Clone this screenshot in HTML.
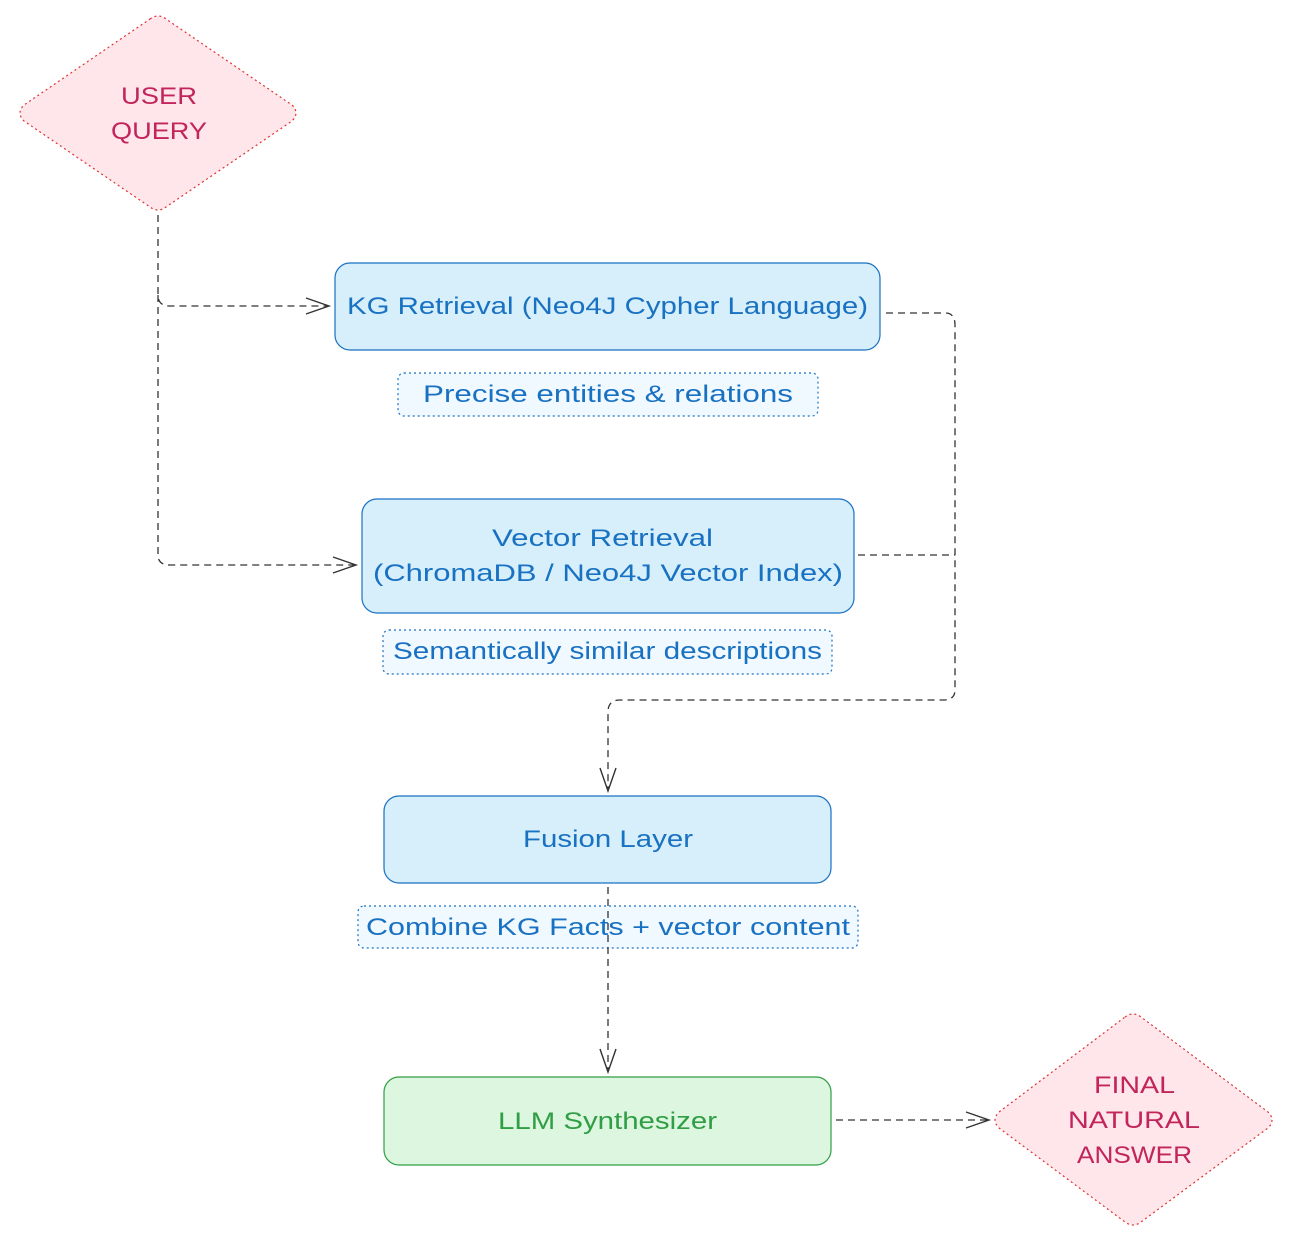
<!DOCTYPE html>
<html><head><meta charset="utf-8"><style>
html,body{margin:0;padding:0;background:#fff;}
svg{display:block;}
text{font-family:"Liberation Sans",sans-serif;}
</style></head><body>
<svg width="1293" height="1245" viewBox="0 0 1293 1245" xmlns="http://www.w3.org/2000/svg">
<rect width="1293" height="1245" fill="#fff"/>
<path d="M150,19 Q158,13 166,19 L292,105 Q300,113 292,121 L166,207 Q158,213 150,207 L24,121 Q16,113 24,105 Z" fill="#ffe6ea" stroke="#e03131" stroke-width="1.2" stroke-dasharray="2,3"/>
<text x="121" y="104" textLength="76" lengthAdjust="spacingAndGlyphs" font-size="24" fill="#c2255c">USER</text>
<text x="111" y="139" textLength="96" lengthAdjust="spacingAndGlyphs" font-size="24" fill="#c2255c">QUERY</text>
<path d="M1125,1017 Q1133,1011 1141,1017 L1268,1112 Q1276,1120 1268,1128 L1141,1222 Q1133,1228 1125,1222 L999,1128 Q991,1120 999,1112 Z" fill="#ffe6ea" stroke="#e03131" stroke-width="1.2" stroke-dasharray="2,3"/>
<text x="1094" y="1093" textLength="81" lengthAdjust="spacingAndGlyphs" font-size="24" fill="#c2255c">FINAL</text>
<text x="1068" y="1128" textLength="132" lengthAdjust="spacingAndGlyphs" font-size="24" fill="#c2255c">NATURAL</text>
<text x="1077" y="1163" textLength="115" lengthAdjust="spacingAndGlyphs" font-size="24" fill="#c2255c">ANSWER</text>
<rect x="335" y="263" width="545" height="87" rx="15" fill="#d6effb" stroke="#1971c2" stroke-width="1.2"/>
<text x="347" y="314" textLength="521" lengthAdjust="spacingAndGlyphs" font-size="24" fill="#1971c2">KG Retrieval (Neo4J Cypher Language)</text>
<rect x="398" y="373" width="420" height="43" rx="6" fill="#f0f9ff" stroke="#1971c2" stroke-width="1.2" stroke-dasharray="2,3"/>
<text x="423" y="402" textLength="370" lengthAdjust="spacingAndGlyphs" font-size="24" fill="#1971c2">Precise entities &amp; relations</text>
<rect x="362" y="499" width="492" height="114" rx="15" fill="#d6effb" stroke="#1971c2" stroke-width="1.2"/>
<text x="492" y="546" textLength="221" lengthAdjust="spacingAndGlyphs" font-size="24" fill="#1971c2">Vector Retrieval</text>
<text x="373" y="581" textLength="470" lengthAdjust="spacingAndGlyphs" font-size="24" fill="#1971c2">(ChromaDB / Neo4J Vector Index)</text>
<rect x="383" y="630" width="449" height="44" rx="6" fill="#f0f9ff" stroke="#1971c2" stroke-width="1.2" stroke-dasharray="2,3"/>
<text x="393" y="659" textLength="429" lengthAdjust="spacingAndGlyphs" font-size="24" fill="#1971c2">Semantically similar descriptions</text>
<rect x="384" y="796" width="447" height="87" rx="15" fill="#d6effb" stroke="#1971c2" stroke-width="1.2"/>
<text x="523" y="847" textLength="170" lengthAdjust="spacingAndGlyphs" font-size="24" fill="#1971c2">Fusion Layer</text>
<rect x="358" y="906" width="500" height="42" rx="6" fill="#f0f9ff" stroke="#1971c2" stroke-width="1.2" stroke-dasharray="2,3"/>
<text x="366" y="935" textLength="484" lengthAdjust="spacingAndGlyphs" font-size="24" fill="#1971c2">Combine KG Facts + vector content</text>
<rect x="384" y="1077" width="447" height="88" rx="15" fill="#dcf6df" stroke="#2f9e44" stroke-width="1.2"/>
<text x="498" y="1129" textLength="219" lengthAdjust="spacingAndGlyphs" font-size="24" fill="#2f9e44">LLM Synthesizer</text>
<g fill="none" stroke="#333" stroke-width="1.3" stroke-dasharray="7,5">
<path d="M158,215 L158,295 Q158,306 170,306 L328,306"/>
<path d="M158,295 L158,555 Q158,565 170,565 L355,565"/>
<path d="M886,313 L945,313 Q955,313 955,325 L955,690 Q955,700 943,700 L620,700 Q608,700 608,712 L608,790"/>
<path d="M858,555 L955,555"/>
<path d="M608,887 L608,1071"/>
<path d="M836,1120 L988,1120"/>
</g>
<g fill="none" stroke="#333" stroke-width="1.4">
<path d="M306,298 L329,306 L306,314"/>
<path d="M333,557 L356,565 L333,573"/>
<path d="M600,768 L608,791 L616,768"/>
<path d="M600,1049 L608,1072 L616,1049"/>
<path d="M966,1112 L989,1120 L966,1128"/>
</g>
</svg>
</body></html>
